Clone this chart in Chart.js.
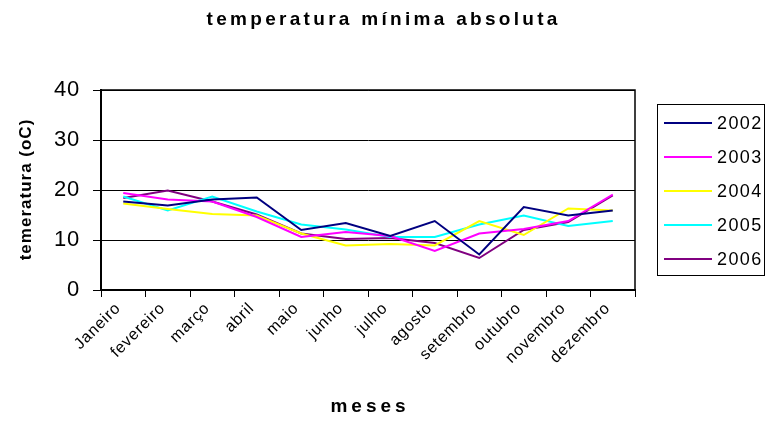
<!DOCTYPE html>
<html>
<head>
<meta charset="utf-8">
<script src="https://cdn.jsdelivr.net/npm/chart.js@4/dist/chart.umd.min.js"></script>
<style>
  html, body { margin: 0; padding: 0; background: #fff; }
  #wrap { width: 771px; height: 421px; position: relative; }
</style>
</head>
<body>
<div id="wrap"><canvas id="c" width="771" height="421"></canvas></div>
<script>
// Monthly absolute minimum temperature (°C), one series per year
const months = ['Janeiro', 'fevereiro', 'março', 'abril', 'maio', 'junho',
                'julho', 'agosto', 'setembro', 'outubro', 'novembro', 'dezembro'];
const years = ['2002', '2003', '2004', '2005', '2006'];
const t2002 = [17.7, 16.9, 18.1, 18.5, 12.0, 13.4, 10.8, 13.8, 7.1, 16.6, 14.9, 15.9];
const t2003 = [19.4, 18.1, 17.7, 14.6, 10.6, 11.6, 10.8, 7.8, 11.3, 12.2, 13.8, 19.1];
const t2004 = [17.3, 16.2, 15.2, 14.9, 11.3, 8.9, 9.2, 8.9, 13.8, 11.0, 16.3, 15.9];
const t2005 = [18.7, 15.9, 18.7, 15.7, 13.1, 12.1, 10.6, 10.6, 13.1, 14.9, 12.8, 13.8];
const t2006 = [18.4, 19.9, 17.7, 15.1, 11.3, 10.2, 10.4, 9.4, 6.4, 12.0, 13.6, 18.9];
const yTicks = [0, 10, 20, 30, 40];

const seriesValues = [t2002, t2003, t2004, t2005, t2006];
const seriesColors = ['#000080', '#FF00FF', '#FFFF00', '#00FFFF', '#800080'];

const FONT = 'Arial, "Liberation Sans", sans-serif';

function spacedText(ctx, text, x, y, font, spacing, align) {
  ctx.save();
  ctx.font = font;
  ctx.letterSpacing = spacing + 'px';
  ctx.fillStyle = '#000';
  ctx.textBaseline = 'middle';
  const w = ctx.measureText(text).width - spacing;
  let sx = x;
  if (align === 'center') sx = x - w / 2;
  ctx.textAlign = 'left';
  ctx.fillText(text, sx, y);
  ctx.restore();
}

// Plot frame (top and right edges), titles and boxed legend
const decorations = {
  id: 'decorations',
  beforeDraw(chart) {
    chart.ctx.letterSpacing = '0.8px';
  },
  beforeDatasetsDraw(chart) {
    const { ctx, chartArea: a } = chart;
    ctx.save();
    ctx.strokeStyle = '#000';
    ctx.lineWidth = 1.5;
    ctx.beginPath();
    ctx.moveTo(a.left, a.top);
    ctx.lineTo(a.right, a.top);
    ctx.lineTo(a.right, a.bottom);
    ctx.stroke();
    ctx.restore();
  },
  afterDraw(chart) {
    const { ctx, chartArea: a } = chart;
    // chart title
    spacedText(ctx, 'temperatura mínima absoluta', 382, 20, 'bold 19px ' + FONT, 3.3, 'center');
    // x axis title
    spacedText(ctx, 'meses', (a.left + a.right) / 2, 407, 'bold 19px ' + FONT, 4, 'center');
    // y axis title
    ctx.save();
    ctx.translate(26, (a.top + a.bottom) / 2);
    ctx.rotate(-Math.PI / 2);
    spacedText(ctx, 'temeratura (oC)', 0, 0, 'bold 17px ' + FONT, 1, 'center');
    ctx.restore();

    // legend box
    const lx = 657, ly = 104, lw = 107, lh = 171;
    ctx.save();
    ctx.fillStyle = '#fff';
    ctx.fillRect(lx, ly, lw, lh);
    ctx.strokeStyle = '#000';
    ctx.lineWidth = 1;
    ctx.strokeRect(lx + 0.5, ly + 0.5, lw, lh);
    chart.data.datasets.forEach((ds, i) => {
      const cy = ly + 19 + i * 34;
      ctx.strokeStyle = ds.borderColor;
      ctx.lineWidth = 2;
      ctx.beginPath();
      ctx.moveTo(664, cy);
      ctx.lineTo(712, cy);
      ctx.stroke();
      spacedText(ctx, ds.label, 717, cy + 1, '18px ' + FONT, 1.4, 'left');
    });
    ctx.restore();
  }
};

new Chart(document.getElementById('c'), {
  type: 'line',
  data: {
    labels: months,
    datasets: years.map((y, i) => ({
      label: y,
      data: seriesValues[i],
      borderColor: seriesColors[i],
      backgroundColor: seriesColors[i],
      borderWidth: 2,
      pointRadius: 0,
      tension: 0,
      fill: false
    }))
  },
  options: {
    responsive: false,
    animation: false,
    devicePixelRatio: 1,
    layout: { padding: { top: 90, right: 136, left: 0, bottom: 0 } },
    plugins: {
      legend: { display: false },
      title: { display: false },
      tooltip: { enabled: false }
    },
    scales: {
      x: {
        type: 'category',
        offset: true,
        grid: { offset: true, drawOnChartArea: false, color: '#000', lineWidth: 1, tickLength: 7 },
        border: { display: true, color: '#000', width: 2 },
        ticks: {
          autoSkip: false,
          maxRotation: 45,
          minRotation: 45,
          color: '#000',
          font: { family: FONT, size: 16 },
          padding: 2,
          labelOffset: -5
        },
        afterFit(scale) { scale.height = 131; }
      },
      y: {
        min: 0,
        max: 40,
        afterBuildTicks(scale) { scale.ticks = yTicks.map(v => ({ value: v })); },
        grid: { color: '#000', lineWidth: 1, tickLength: 8 },
        border: { display: true, color: '#000', width: 2 },
        ticks: {
          color: '#000',
          font: { family: FONT, size: 22 },
          padding: 13
        },
        afterFit(scale) { scale.width = 101; }
      }
    }
  },
  plugins: [decorations]
});
</script>
</body>
</html>
